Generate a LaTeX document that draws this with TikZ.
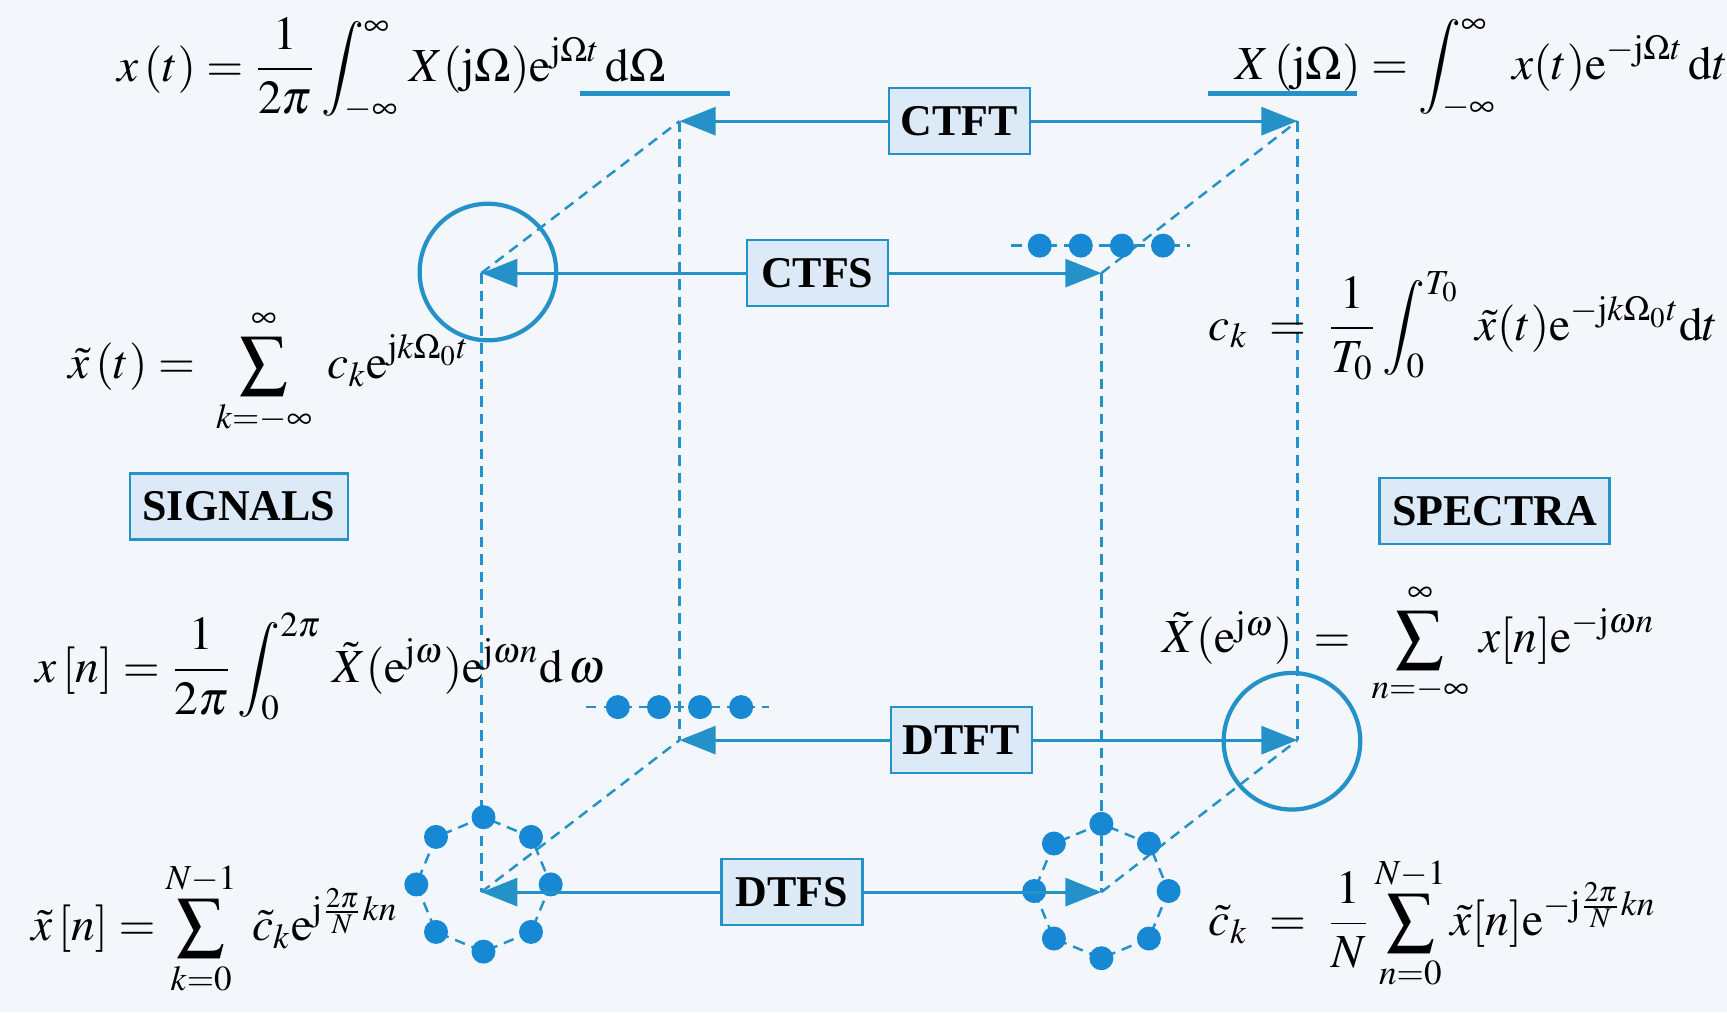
\documentclass[tikz,border=0pt]{standalone}
\usepackage{amsmath}
\usepackage{mathptmx}
\usepackage{fontspec}
\setmainfont{Liberation Serif}
\usepackage{tikz}
\usetikzlibrary{arrows.meta,positioning,calc}
\definecolor{cubeblue}{RGB}{36,146,200}
\definecolor{dotblue}{RGB}{22,136,212}
\definecolor{boxfill}{RGB}{220,233,246}
\definecolor{bgcol}{RGB}{243,247,251}
\newcommand{\jj}{\mathrm{j}}
\newcommand{\ee}{\mathrm{e}}
\newcommand{\dd}{\mathrm{d}}

\begin{document}
\begin{tikzpicture}[
  x=0.11014mm, y=-0.11014mm,
  font=\fontsize{13.5}{16}\selectfont,
  tbox/.style={draw=cubeblue, fill=boxfill, line width=0.7pt, inner sep=1pt, font=\fontsize{12.5}{15}\selectfont\bfseries, minimum width=14.1mm, minimum height=6.6mm},
  arr/.style={-{Triangle[length=3.6mm, width=2.8mm]}, cubeblue, line width=0.8pt},
  cubeedge/.style={cubeblue, dash pattern=on 3pt off 2pt, line width=0.7pt},
  ringline/.style={cubeblue, line width=1.2pt},
  sdot/.style={circle, fill=dotblue, inner sep=0pt, minimum size=2.4mm},
  fml/.style={anchor=west, inner sep=0pt},
]
\fill[bgcol] (0,0) rectangle (1568,919);
\useasboundingbox (0,0) rectangle (1568,919);

% corners of the cube
\coordinate (bTL) at (617,110);
\coordinate (bTR) at (1178,110);
\coordinate (bBL) at (617,672);
\coordinate (bBR) at (1178,672);
\coordinate (fTL) at (437,248);
\coordinate (fTR) at (1000,248);
\coordinate (fBL) at (437,810);
\coordinate (fBR) at (1000,810);

% dashed edges
\draw[cubeedge] (bTL) -- (bBL);
\draw[cubeedge] (bTR) -- (bBR);
\draw[cubeedge] (fTL) -- (fBL);
\draw[cubeedge] (fTR) -- (fBR);
\draw[cubeedge] (fTL) -- (bTL);
\draw[cubeedge] (fTR) -- (bTR);
\draw[cubeedge] (fBL) -- (bBL);
\draw[cubeedge] (fBR) -- (bBR);

% circles and underlines
\draw[ringline] (443,247) circle[radius=62];
\draw[ringline] (1173,673) circle[radius=62];
\coordinate (ulA) at (527,85);
\coordinate (ulB) at (663,85);
\coordinate (urA) at (1097,85);
\coordinate (urB) at (1232,85);
\draw[cubeblue, line width=1.6pt] (ulA) -- (ulB);
\draw[cubeblue, line width=1.6pt] (urA) -- (urB);

% rows of samples
\draw[cubeedge] (918,223) -- (1080,223);
\draw[cubeedge] (532,642) -- (698,642);
\foreach \i in {0,...,3} {
  \node[sdot] (tr\i) at (944+37.3*\i,223) {};
  \node[sdot] (bl\i) at (561+37.3*\i,642) {};
}

% rings of samples
\foreach \c/\cx/\cy in {L/439/803, R/1000/809} {
  \draw[cubeedge] (\cx,\cy) ++(0:61) \foreach \a in {45,90,...,360} { -- ($(\cx,\cy)+(\a:61)$) };
  \foreach \a in {0,45,...,315}
    \node[sdot] (ring\c\a) at ($(\cx,\cy)+(\a:61)$) {};
}

% transform boxes
\node[tbox] (ctft) at (871,110) {CTFT};
\node[tbox] (ctfs) at (742,248) {CTFS};
\node[tbox] (dtft) at (873,672) {DTFT};
\node[tbox] (dtfs) at (719,810) {DTFS};
\node[tbox, minimum width=21.8mm] (signals) at (217,460) {SIGNALS};
\node[tbox, minimum width=23mm] (spectra) at (1357,464) {SPECTRA};

\draw[arr] (ctft) -- (bTL);
\draw[arr] (ctft) -- (bTR);
\draw[arr] (ctfs) -- (fTL);
\draw[arr] (ctfs) -- (fTR);
\draw[arr] (dtft) -- (bBL);
\draw[arr] (dtft) -- (bBR);
\draw[arr] (dtfs) -- (fBL);
\draw[arr] (dtfs) -- (fBR);

% formulas
\node[fml] (ctftinv) at (106,63) {$x\,(t)=\dfrac{1}{2\pi}\displaystyle\int_{-\infty}^{\infty}\,X(\jj\Omega)\ee^{\jj\Omega t}\,\dd\Omega$};
\node[fml] (ctftfwd) at (1121,63) {$X\,(\jj\Omega)=\displaystyle\int_{-\infty}^{\infty}\;x(t)\ee^{-\jj\Omega t}\,\dd t$};
\node[fml] (ctfsinv) at (62,338) {$\tilde{x}\,(t)=\;\displaystyle\sum_{k=-\infty}^{\infty}\;c_k\ee^{\jj k\Omega_0 t}$};
\node[fml] (ctfsfwd) at (1097,296) {$c_k\;=\;\dfrac{1}{T_0}\displaystyle\int_0^{T_0}\;\tilde{x}(t)\ee^{-\jj k\Omega_0 t}\dd t$};
\node[fml] (dtftinv) at (32,605) {$x\,[n]=\dfrac{1}{2\pi}\displaystyle\int_0^{2\pi}\,\tilde{X}(\ee^{\jj\omega})\ee^{\jj\omega n}\dd\,\omega$};
\node[fml] (dtftfwd) at (1055,585) {$\tilde{X}(\ee^{\jj\omega})\;=\;\displaystyle\sum_{n=-\infty}^{\infty}\,x[n]\ee^{-\jj\omega n}$};
\node[fml] (dtfsinv) at (28,843) {$\tilde{x}\,[n]=\displaystyle\sum_{k=0}^{N-1}\;\tilde{c}_k\ee^{\jj\frac{2\pi}{N}kn}$};
\node[fml] (dtfsfwd) at (1097,838) {$\tilde{c}_k\;=\;\dfrac{1}{N}\displaystyle\sum_{n=0}^{N-1}\tilde{x}[n]\ee^{-\jj\frac{2\pi}{N}kn}$};
\end{tikzpicture}
\end{document}
